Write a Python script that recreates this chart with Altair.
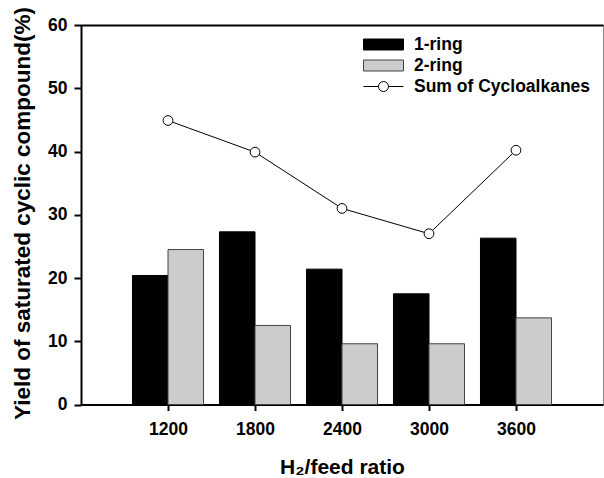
import altair as alt
import pandas as pd

# ---- data ----
ratios = [1200, 1800, 2400, 3000, 3600]
ring1 = [20.4, 27.3, 21.4, 17.5, 26.3]
ring2 = [24.5, 12.5, 9.6, 9.6, 13.7]
cyclo_sum = [44.9, 39.9, 31.0, 27.0, 40.2]

series_bars = ["1-ring", "2-ring"]
series_line = ["Sum of Cycloalkanes"]
y_ticks = [0, 10, 20, 30, 40, 50, 60]

bars_df = pd.DataFrame(
    {
        "ratio": ratios * 2,
        "series": [series_bars[0]] * len(ratios) + [series_bars[1]] * len(ratios),
        "value": ring1 + ring2,
    }
)
sum_df = pd.DataFrame(
    {"ratio": ratios, "series": series_line * len(ratios), "value": cyclo_sum}
)

FONT = "Liberation Sans"
BAR_W = 245  # bar width in data units of the x scale

x_scale = alt.Scale(domain=[600, 4200], nice=False, zero=False)
y_scale = alt.Scale(domain=[0, 60], nice=False)

rect_path = "M-2,-0.55H2V0.55H-2Z"
line_circle_path = (
    "M-2,0H-0.5M0.5,0H2M-0.5,0A0.5,0.5,0,1,1,0.5,0A0.5,0.5,0,1,1,-0.5,0Z"
)

bars = (
    alt.Chart(bars_df)
    .transform_calculate(
        x0=f"datum.series == '1-ring' ? datum.ratio - {BAR_W} : datum.ratio",
        x1=f"datum.series == '1-ring' ? datum.ratio : datum.ratio + {BAR_W}",
    )
    .mark_rect(strokeWidth=1, opacity=1)
    .encode(
        x=alt.X(
            "x0:Q",
            scale=x_scale,
            axis=alt.Axis(
                values=ratios,
                title="H₂/feed ratio",
                titleFont=FONT,
                titleFontSize=21,
                titleFontWeight="bold",
                titleColor="black",
                titleBaseline="alphabetic",
                titleY=69,
                labelFont=FONT,
                labelFontSize=17.5,
                labelFontWeight="bold",
                labelColor="black",
                labelPadding=10,
                tickSize=6,
                tickWidth=2,
                tickColor="black",
                domainWidth=2,
                domainColor="black",
                grid=False,
                format="d",
            ),
        ),
        x2="x1:Q",
        y=alt.Y(
            "value:Q",
            scale=y_scale,
            axis=alt.Axis(
                values=y_ticks,
                title="Yield of saturated cyclic compound(%)",
                titleFont=FONT,
                titleFontSize=22.5,
                titleFontWeight="bold",
                titleColor="black",
                titleBaseline="alphabetic",
                titleAngle=270,
                titleAlign="center",
                titleX=-52,
                titleY=188,
                labelFont=FONT,
                labelFontSize=17.5,
                labelFontWeight="bold",
                labelColor="black",
                labelPadding=7,
                tickSize=7,
                tickWidth=2,
                tickColor="black",
                domainWidth=2,
                domainColor="black",
                grid=False,
            ),
        ),
        y2=alt.datum(0),
        fill=alt.Fill(
            "series:N",
            scale=alt.Scale(domain=series_bars, range=["#000000", "#cccccc"]),
            legend=alt.Legend(
                title=None,
                orient="none",
                legendX=292,
                legendY=9,
                padding=0,
                symbolType=rect_path,
                symbolSize=400,
                symbolStrokeColor="#333333",
                symbolStrokeWidth=1,
                labelFont=FONT,
                labelFontSize=17.5,
                labelFontWeight="bold",
                labelColor="black",
                labelOffset=20,
                labelLimit=400,
                rowPadding=2,
            ),
        ),
        stroke=alt.Stroke(
            "series:N",
            scale=alt.Scale(domain=series_bars, range=["#000000", "#444444"]),
            legend=None,
        ),
    )
)

line = (
    alt.Chart(sum_df)
    .mark_line(color="black", strokeWidth=1)
    .encode(
        x=alt.X(
            "ratio:Q",
            scale=x_scale,
            axis=alt.Axis(
                orient="top",
                labels=False,
                ticks=False,
                title=None,
                domainWidth=2,
                domainColor="black",
                grid=False,
            ),
        ),
        y=alt.Y("value:Q", scale=y_scale),
    )
)

points = (
    alt.Chart(sum_df)
    .mark_point(
        shape="circle", filled=False, fill="white", size=95, strokeWidth=1, opacity=1
    )
    .encode(
        x=alt.X("ratio:Q", scale=x_scale, axis=None),
        y=alt.Y("value:Q", scale=y_scale),
        color=alt.Color(
            "series:N",
            scale=alt.Scale(domain=series_line, range=["#000000"]),
            legend=alt.Legend(
                title=None,
                orient="none",
                legendX=292,
                legendY=51,
                padding=0,
                symbolType=line_circle_path,
                symbolSize=400,
                symbolFillColor="white",
                symbolStrokeWidth=1,
                labelFont=FONT,
                labelFontSize=17.5,
                labelFontWeight="bold",
                labelColor="black",
                labelOffset=20,
                labelLimit=400,
            ),
        ),
    )
)

chart = (
    alt.layer(bars, line, points)
    .resolve_axis(x="independent")
    .properties(
        width=522,
        height=379.5,
        autosize=alt.AutoSizeParams(type="none"),
        padding={"left": 81, "top": 25, "right": 1, "bottom": 73.5},
        background="white",
    )
    .configure_view(stroke="#888888", strokeWidth=1)
)

chart.save("out.html", embed_options={"renderer": "svg", "actions": False})
